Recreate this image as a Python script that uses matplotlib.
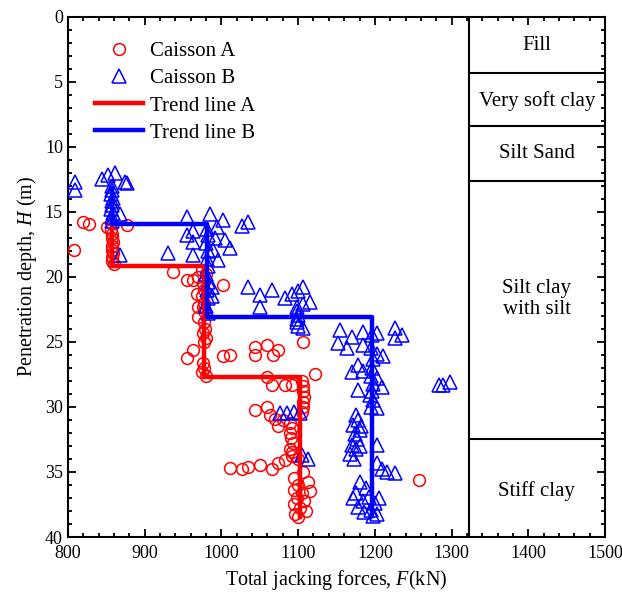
import matplotlib
matplotlib.use("Agg")
import matplotlib.pyplot as plt
from matplotlib.ticker import MultipleLocator

plt.rcParams['font.family'] = ['Liberation Serif', 'DejaVu Serif']
plt.rcParams['mathtext.fontset'] = 'custom'
plt.rcParams['mathtext.it'] = 'Liberation Serif:italic'
plt.rcParams['mathtext.rm'] = 'Liberation Serif'

# Caisson A (red circles): jacking force (kN), depth (m)
a_force = [808, 820, 827, 851, 877,
           856, 858, 857, 859, 858, 857, 859, 858, 857, 860,
           937, 955, 963, 970, 1002, 975, 980, 968, 976,
           976, 978, 975, 977, 970, 978, 970, 977, 979, 976, 980, 978, 963, 955, 976, 978, 975, 980,
           1002, 1011, 1044, 1044, 1059, 1067, 1074, 1106, 1122,
           1066, 1083, 1092, 1060,
           1105, 1107, 1106, 1108, 1106, 1107, 1105,
           1044, 1059, 1063, 1070, 1074, 1080,
           1090, 1092, 1090, 1091, 1093, 1090, 1092,
           1011, 1027, 1035, 1050, 1066, 1074, 1083, 1092, 1100,
           1106, 1113, 1095, 1100, 1094, 1105, 1098, 1108, 1094, 1102, 1110, 1096, 1100, 1115,
           1258]
a_depth = [17.9, 15.8, 15.9, 16.2, 16.0,
           16.4, 16.7, 17.0, 17.3, 17.6, 17.9, 18.2, 18.5, 18.8, 19.0,
           19.6, 20.2, 20.2, 20.0, 20.6, 19.5, 19.8, 21.3, 22.3,
           20.5, 21.0, 21.5, 22.0, 22.3, 22.6, 23.1, 23.5, 24.0, 24.3, 24.7, 25.0, 25.6, 26.2, 26.6, 27.0, 27.3, 27.6,
           26.1, 26.0, 25.4, 26.0, 25.2, 26.0, 25.6, 25.0, 27.5,
           28.3, 28.3, 28.3, 27.7,
           28.0, 28.4, 28.8, 29.2, 29.6, 30.0, 30.4,
           30.2, 30.0, 30.6, 30.9, 31.5, 31.0,
           31.2, 31.6, 32.0, 32.4, 32.8, 33.2, 33.5,
           34.7, 34.8, 34.6, 34.5, 34.8, 34.3, 34.1, 33.8, 34.0,
           35.0, 35.8, 35.5, 36.0, 36.4, 36.6, 37.0, 37.2, 37.5, 37.8, 38.0, 38.2, 38.5, 36.5,
           35.6]

# Caisson B (blue triangles)
b_force = [809, 809, 844, 852, 861, 874, 877,
           857, 858, 856, 859, 857, 858, 856, 859, 857, 858,
           868, 868,
           955, 985, 1002, 1035, 1027, 963, 955, 963, 1005, 1011, 989, 996, 930, 963, 994, 992,
           981, 982, 980, 983, 981, 982, 980, 983, 981, 982, 980, 983,
           988, 988,
           1035, 1050, 1050, 1066, 1083, 1092, 1100, 1106, 1116, 1106,
           1099, 1098, 1100, 1099, 1098, 1100, 1106,
           1155, 1170, 1185, 1203, 1226, 1235, 1226, 1152, 1164, 1185, 1203, 1211, 1178, 1170, 1185,
           1203, 1209, 1178, 1194, 1203,
           1196, 1195, 1197, 1196, 1195, 1198, 1196, 1197, 1195,
           1283, 1289, 1298,
           1076, 1085, 1094, 1102,
           1175, 1178, 1172, 1180, 1174, 1177, 1170, 1176, 1168, 1173, 1180, 1182,
           1203, 1203, 1209, 1216, 1226,
           1113, 1105,
           1180, 1188, 1176, 1192, 1184, 1200, 1178, 1195, 1186, 1203, 1198, 1205, 1172]
b_depth = [12.7, 13.3, 12.5, 12.2, 12.0, 12.7, 12.8,
           13.0, 13.3, 13.6, 13.9, 14.2, 14.5, 14.8, 15.1, 15.4, 15.7,
           15.2, 18.3,
           15.4, 15.2, 15.6, 15.8, 16.1, 16.5, 16.8, 17.3, 17.2, 17.8, 17.9, 18.7, 18.2, 18.3, 16.2, 17.0,
           16.3, 16.8, 17.4, 18.0, 18.6, 19.2, 19.8, 20.4, 21.0, 21.6, 22.2, 22.8,
           20.8, 21.5,
           20.8, 21.4, 22.3, 21.0, 21.6, 21.3, 21.1, 20.8, 21.9, 22.1,
           22.3, 22.6, 22.9, 23.2, 23.5, 23.8, 23.9,
           24.1, 24.6, 24.2, 24.3, 23.9, 24.5, 24.7, 25.1, 25.5, 25.2, 25.9, 26.1, 26.8, 27.3, 27.2,
           27.8, 28.5, 28.7, 29.1, 30.1,
           24.5, 25.5, 26.3, 27.0, 27.6, 28.2, 28.8, 29.5, 30.0,
           28.3, 28.3, 28.1,
           30.5, 30.5, 30.4, 30.5,
           30.6, 31.0, 31.4, 31.8, 32.1, 32.5, 32.9, 33.2, 33.6, 34.0, 33.0, 31.5,
           32.9, 34.3, 34.8, 35.0, 35.1,
           34.0, 33.7,
           35.8, 36.2, 36.6, 36.9, 37.2, 37.4, 37.7, 37.9, 38.1, 38.2, 38.4, 37.0, 37.0]

# Trend lines
trend_a_force = [858, 858, 977, 977, 1102, 1102]
trend_a_depth = [16.0, 19.15, 19.15, 27.7, 27.7, 38.5]
trend_b_force = [858, 858, 981, 981, 1196, 1196]
trend_b_depth = [13.2, 15.9, 15.9, 23.1, 23.1, 38.4]

# Soil layers
layer_bounds = [4.3, 8.4, 12.6, 32.5]
layer_names = ["Fill", "Very soft clay", "Silt Sand", "Silt clay\nwith silt", "Stiff clay"]
layer_label_depth = [2.2, 6.5, 10.5, 21.7, 36.5]
divider_force = 1322

fig = plt.figure(figsize=(6.22, 6.0), dpi=100)
ax = fig.add_axes([0.109, 0.105, 0.864, 0.867])

ax.plot(a_force, a_depth, linestyle='none', marker='o', markersize=8.5,
        markerfacecolor='none', markeredgecolor='#ff0000', markeredgewidth=1.1,
        label='Caisson A', zorder=3)
ax.plot(b_force, b_depth, linestyle='none', marker='^', markersize=9.5,
        markerfacecolor='none', markeredgecolor='#0000ff', markeredgewidth=1.1,
        label='Caisson B', zorder=3)
ax.plot(trend_a_force, trend_a_depth, color='#ff0000', linewidth=3.2,
        label='Trend line A', zorder=4)
ax.plot(trend_b_force, trend_b_depth, color='#0000ff', linewidth=3.2,
        label='Trend line B', zorder=5)

ax.axvline(divider_force, color='black', linewidth=1.5)
for b in layer_bounds:
    ax.plot([divider_force, 1500], [b, b], color='black', linewidth=1.5)
xmid = (divider_force + 1500) / 2
for name, d in zip(layer_names, layer_label_depth):
    ax.text(xmid, d, name, ha='center', va='center', fontsize=15,
            linespacing=1.1)

ax.set_xlim(800, 1500)
ax.set_ylim(40, 0)
ax.xaxis.set_major_locator(MultipleLocator(100))
ax.xaxis.set_minor_locator(MultipleLocator(20))
ax.yaxis.set_major_locator(MultipleLocator(5))
ax.yaxis.set_minor_locator(MultipleLocator(1))
ax.tick_params(which='both', direction='in', top=True, right=True, labelsize=13, width=1.3)
ax.tick_params(which='major', length=6)
ax.tick_params(which='minor', length=3)
ax.tick_params(axis='x', pad=6)
for s in ax.spines.values():
    s.set_linewidth(1.5)

ax.set_xlabel('Total jacking forces, $\\mathit{F}$(kN)', fontsize=14.5)
ax.set_ylabel('Penetration depth, $\\mathit{H}$ (m)', fontsize=14.5)

ax.legend(loc='upper left', bbox_to_anchor=(0.015, 0.988), frameon=False, fontsize=15,
          handlelength=2.3, labelspacing=0.36, handletextpad=0.35)

fig.savefig('out.png', dpi=100)
